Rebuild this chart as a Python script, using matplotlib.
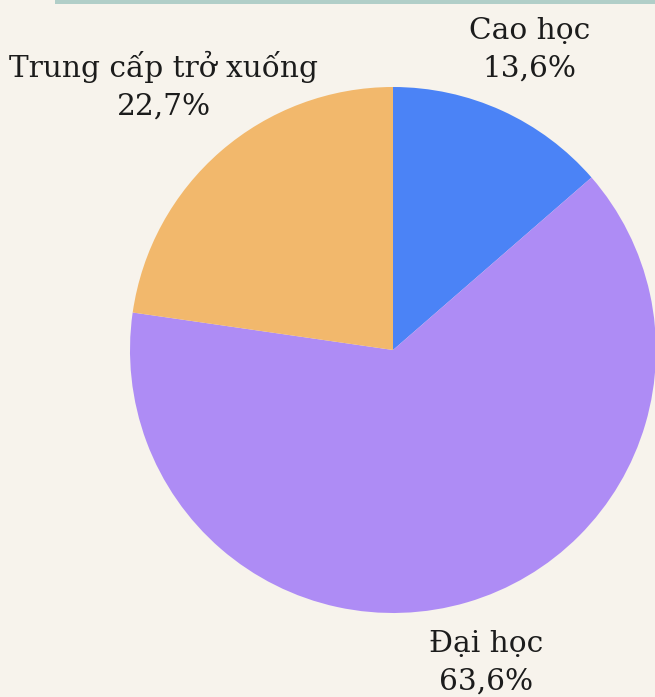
import matplotlib
matplotlib.use("Agg")
import matplotlib.pyplot as plt

BG = "#f7f3ec"
BAR = "#b1cec8"
TEXT = "#1c1c1c"

categories = ["Cao học", "Đại học", "Trung cấp trở xuống"]
shares = [13.6, 63.6, 22.7]
colors = ["#4b83f6", "#ae8cf5", "#f2b86c"]

labels = [f"{c}\n{str(v).replace('.', ',')}%" for c, v in zip(categories, shares)]

fig = plt.figure(figsize=(6.55, 6.97), dpi=100)
fig.patch.set_facecolor(BG)
ax = fig.add_axes([0, 0, 1, 1])
ax.set_xlim(0, 655)
ax.set_ylim(0, 697)
ax.set_aspect("equal")
ax.axis("off")

# thin accent strip along the top
ax.axhspan(693, 697, xmin=55 / 655, xmax=1, color=BAR, lw=0)

wedges, texts = ax.pie(
    shares, labels=labels, colors=colors, startangle=90, counterclock=False,
    center=(393, 347), radius=263, labeldistance=1.255,
    wedgeprops=dict(linewidth=0),
    textprops=dict(ha="center", va="center", fontsize=21.3, color=TEXT,
                   family="DejaVu Serif", linespacing=1.45))

# small nudges so the labels sit where the original has them
x, y = texts[2].get_position()
texts[2].set_position((x - 13, y + 15))
x, y = texts[1].get_position()
texts[1].set_position((x, y + 4))

ax.set_xlim(0, 655)
ax.set_ylim(0, 697)

fig.savefig("out.png", dpi=100, facecolor=BG)
